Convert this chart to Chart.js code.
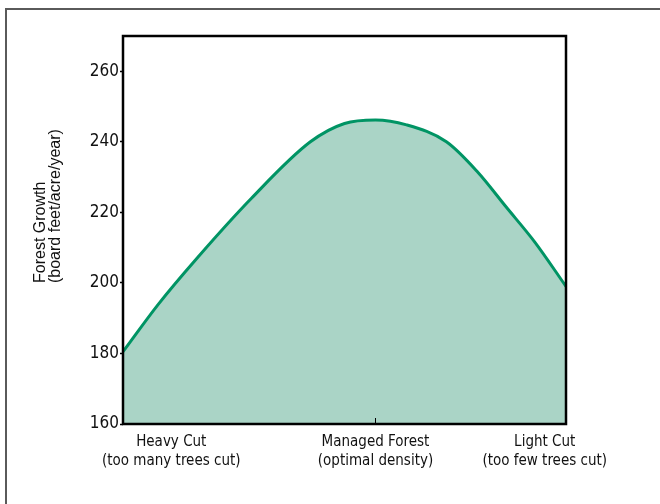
<!DOCTYPE html>
<html>
<head>
<meta charset="utf-8">
<script src="https://cdn.jsdelivr.net/npm/chart.js@4.4.1/dist/chart.umd.min.js"></script>
<style>
    body { margin: 0; background: #fff; }
    #wrap { position: relative; width: 660px; height: 504px; overflow: hidden; }
    #frame { position: absolute; left: 5px; top: 8px; width: 700px; height: 550px; border: 2px solid #5a5a5a; }
    #forestChart { position: absolute; left: 0; top: 0; }
</style>
</head>
<body>
<div id="wrap">
    <div id="frame"></div>
    <canvas id="forestChart" width="660" height="504"></canvas>
</div>
<script>
// Posición a lo largo del eje de corta (0 = corta fuerte, 100 = corta ligera)
const cutLevel = [0, 8, 16.7, 29, 42.3, 50, 57, 64, 73, 80, 86.5, 93, 100];
// Crecimiento del bosque (board feet/acre/year)
const growth = [180.5, 194, 207, 224, 240, 245.2, 246.2, 244.8, 240, 231.5, 221.5, 211.5, 199];

// Etiquetas del eje x y su posición
const categoryPos = [10.9, 57, 95.2];
const categoryLabels = [
    ['Heavy Cut', '(too many trees cut)'],
    ['Managed Forest', '(optimal density)'],
    ['Light Cut', '(too few trees cut)']
];
const yTicks = [160, 180, 200, 220, 240, 260];
const yTitle = ['Forest Growth', '(board feet/acre/year)'];

const narrow = "'Liberation Sans Narrow', 'DejaVu Sans Condensed', 'Liberation Sans', sans-serif";

// Caja del área de la gráfica, marca interior y título del eje y
const boxPlugin = {
    id: 'box',
    afterDraw(chart) {
        const ctx = chart.ctx;
        const a = chart.chartArea;
        ctx.save();
        ctx.strokeStyle = '#000';
        ctx.lineWidth = 2.5;
        ctx.strokeRect(a.left, a.top, a.right - a.left, a.bottom - a.top);

        const mx = chart.scales.x.getPixelForValue(categoryPos[1]);
        ctx.lineWidth = 1;
        ctx.beginPath();
        ctx.moveTo(mx, a.bottom);
        ctx.lineTo(mx, a.bottom - 6);
        ctx.stroke();

        ctx.fillStyle = '#111';
        ctx.font = "16px 'Liberation Sans', Arial, sans-serif";
        ctx.textAlign = 'left';
        ctx.textBaseline = 'middle';
        ctx.translate(41, 283);
        ctx.rotate(-Math.PI / 2);
        ctx.fillText(yTitle[0], 0, 0);
        ctx.fillText(yTitle[1], 0, 15);
        ctx.restore();
    }
};

const forestCtx = document.getElementById('forestChart').getContext('2d');
const forestChart = new Chart(forestCtx, {
    type: 'line',
    data: {
        datasets: [{
            label: 'Forest Growth',
            data: cutLevel.map((x, i) => ({ x: x, y: growth[i] })),
            borderColor: 'rgb(0, 148, 100)',
            backgroundColor: 'rgb(170, 212, 198)',
            borderWidth: 3,
            fill: 'start',
            cubicInterpolationMode: 'monotone',
            pointRadius: 0
        }]
    },
    options: {
        responsive: false,
        animation: false,
        layout: {
            padding: { left: 0, right: 94, top: 36, bottom: 0 }
        },
        plugins: {
            legend: { display: false },
            tooltip: { enabled: false }
        },
        scales: {
            x: {
                type: 'linear',
                min: 0,
                max: 100,
                afterBuildTicks: function(scale) {
                    scale.ticks = categoryPos.map(v => ({ value: v }));
                },
                afterFit: function(scale) {
                    scale.height = 80;
                },
                grid: { display: false, drawTicks: false },
                border: { display: false },
                ticks: {
                    autoSkip: false,
                    maxRotation: 0,
                    padding: 8,
                    color: '#111',
                    font: { family: narrow, size: 15, lineHeight: 1.3 },
                    callback: function(value) {
                        const i = categoryPos.indexOf(value);
                        return i >= 0 ? categoryLabels[i] : '';
                    }
                }
            },
            y: {
                min: 160,
                max: 270,
                afterBuildTicks: function(scale) {
                    scale.ticks = yTicks.map(v => ({ value: v }));
                },
                afterFit: function(scale) {
                    scale.width = 123;
                },
                grid: {
                    drawOnChartArea: false,
                    tickLength: 3,
                    tickWidth: 1.5,
                    tickColor: '#000'
                },
                border: { display: false },
                ticks: {
                    padding: 1,
                    color: '#111',
                    font: { family: narrow, size: 17 }
                }
            }
        }
    },
    plugins: [boxPlugin]
});
</script>
</body>
</html>
